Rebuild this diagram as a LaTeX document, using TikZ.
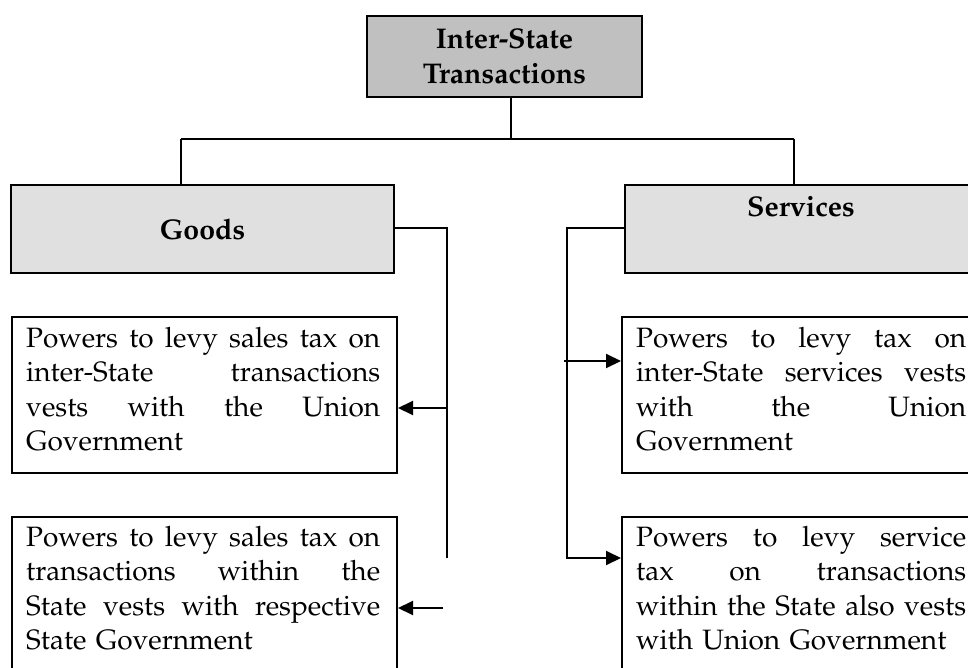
\documentclass[tikz,border=0pt]{standalone}
\usepackage[T1]{fontenc}
\renewcommand{\rmdefault}{ppl}
\usetikzlibrary{arrows.meta}
\definecolor{topgray}{RGB}{192,192,192}
\definecolor{catgray}{RGB}{224,224,224}
\newcommand{\bodyfont}{\fontsize{28}{34.4}\selectfont}
\newcommand{\bodybold}{\fontsize{28.5}{35}\selectfont\bfseries}
\newcommand{\jline}[2]{\hbox to #1{#2}}
\newcommand{\gap}{\hfil\ }
\begin{document}
\begin{tikzpicture}[x=1pt,y=-1pt,
  boxline/.style={draw=black,line width=2pt,inner sep=0pt,anchor=north west},
  topbox/.style={boxline,fill=topgray,align=center,font=\bodybold},
  catbox/.style={boxline,fill=catgray,font=\bodybold},
  boxtext/.style={inner sep=0pt,anchor=north west,font=\bodyfont},
  conn/.style={line width=2pt},
  arr/.style={conn,-{Triangle[length=15pt,width=14pt]}}]
\useasboundingbox (0,0) rectangle (968,668);
\clip (0,0) rectangle (968,668);
% boxes
\node[topbox,minimum width=275pt,minimum height=81pt] (top) at (366,15) {Inter-State\\Transactions};
\node[catbox,minimum width=383pt,minimum height=88pt] (goods) at (10,184) {Goods};
\node[catbox,minimum width=362pt,minimum height=88pt] (services) at (624,184) {};
\node[font=\bodybold,anchor=base,inner sep=0pt] (servlabel) at (801,217) {Services};
\node[boxline,minimum width=385pt,minimum height=156pt] (b1) at (11,316) {};
\node[boxline,minimum width=385pt,minimum height=180pt] (b3) at (11,516) {};
\node[boxline,minimum width=372pt,minimum height=156pt] (b2) at (621,316) {};
\node[boxline,minimum width=372pt,minimum height=180pt] (b4) at (621,516) {};
% texts
\node[boxtext,text width=354pt] (t1) at (26,323) {%
\jline{354pt}{\strut Powers\gap to\gap levy\gap sales\gap tax\gap on}
\jline{354pt}{inter-State\gap transactions}
\jline{354pt}{vests\gap with\gap the\gap Union}
Government};
\node[boxtext,text width=354pt] (t3) at (26,522) {%
\jline{354pt}{\strut Powers\gap to\gap levy\gap sales\gap tax\gap on}
\jline{354pt}{transactions\gap within\gap the}
\jline{354pt}{State\gap vests\gap with\gap respective}
State Government};
\node[boxtext,text width=330pt] (t2) at (636,323) {%
\jline{330pt}{\strut Powers\gap to\gap levy\gap tax\gap on}
\jline{330pt}{inter-State\gap services\gap vests}
\jline{330pt}{with\gap the\gap Union}
Government};
\node[boxtext,text width=330pt] (t4) at (636,522) {%
\jline{330pt}{\strut Powers\gap to\gap levy\gap service}
\jline{330pt}{tax\gap on\gap transactions}
\jline{330pt}{within\gap the\gap State\gap also\gap vests}
with Union Government};
% tree connectors
\coordinate (hub) at (511,139);
\coordinate (gl) at (181,139);
\coordinate (sl) at (794,139);
\draw[conn] (top.south -| hub) -- (hub);
\draw[conn] (gl) -- (sl);
\draw[conn] (gl) -- (gl |- goods.north);
\draw[conn] (sl) -- (sl |- services.north);
% goods side
\coordinate (gv) at (447,228);
\coordinate (gend) at (447,558);
\coordinate (a1) at (447,408);
\coordinate (a2) at (443,608);
\draw[conn] (goods.east |- gv) -- (gv) -- (gend);
\draw[arr] (a1) -- (a1 -| b1.east);
\draw[arr] (a2) -- (a2 -| b3.east);
% services side
\coordinate (sv) at (567,228);
\coordinate (a4) at (567,558);
\coordinate (a3) at (564,361);
\draw[arr] (services.west |- sv) -- (sv) -- (a4) -- (a4 -| b4.west);
\draw[arr] (a3) -- (a3 -| b2.west);
\end{tikzpicture}
\end{document}
